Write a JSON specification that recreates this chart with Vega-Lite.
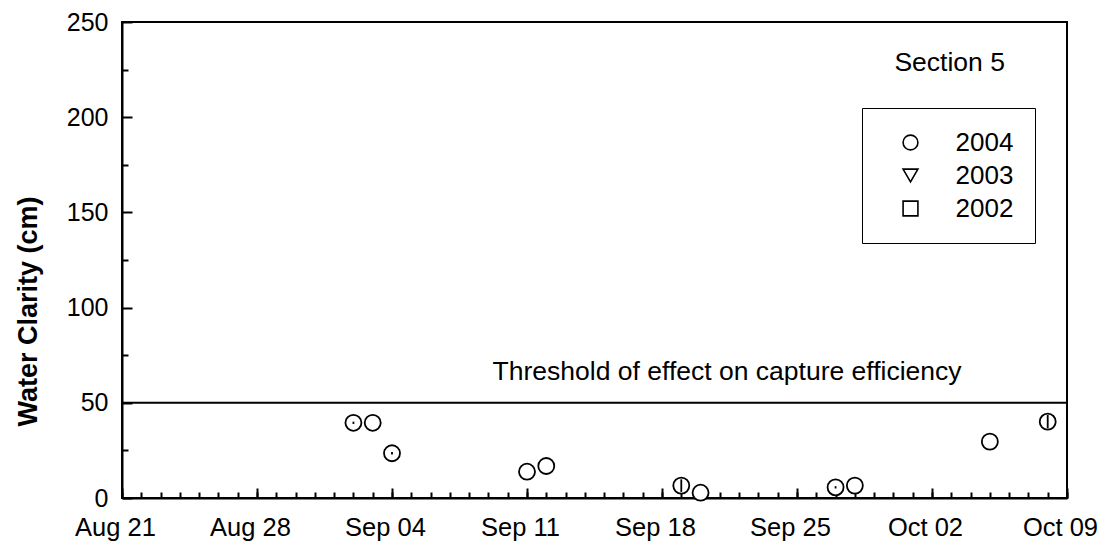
{
  "$schema": "https://vega.github.io/schema/vega-lite/v6.json",
  "width": 945,
  "height": 476,
  "autosize": {"type": "none"},
  "padding": {"left": 122, "top": 22, "right": 36, "bottom": 46},
  "background": "white",
  "datasets": {
    "obs": [
      {"date": "2004-09-02", "clarity": 39.5, "year": "2004"},
      {"date": "2004-09-03", "clarity": 39.5, "year": "2004"},
      {"date": "2004-09-04", "clarity": 23.5, "year": "2004"},
      {"date": "2004-09-11", "clarity": 13.8, "year": "2004"},
      {"date": "2004-09-12", "clarity": 16.8, "year": "2004"},
      {"date": "2004-09-19", "clarity": 6.5, "year": "2004"},
      {"date": "2004-09-20", "clarity": 2.8, "year": "2004"},
      {"date": "2004-09-27", "clarity": 5.6, "year": "2004"},
      {"date": "2004-09-28", "clarity": 6.5, "year": "2004"},
      {"date": "2004-10-05", "clarity": 29.6, "year": "2004"},
      {"date": "2004-10-08", "clarity": 40.1, "year": "2004"}
    ]
  },
  "config": {
    "font": "Liberation Sans",
    "view": {"stroke": "black", "strokeWidth": 2},
    "axis": {"grid": false, "labelColor": "black", "titleColor": "black", "tickColor": "black", "domainColor": "black", "labelFont": "Liberation Sans", "titleFont": "Liberation Sans"}
  },
  "layer": [
    {
      "data": {"values": [{"clarity": 50}]},
      "mark": {"type": "rule", "color": "black", "strokeWidth": 2},
      "encoding": {
        "y": {"field": "clarity", "type": "quantitative", "scale": {"domain": [0, 250], "nice": false}, "axis": null}
      }
    },
    {
      "data": {"values": [
        {"date": "2004-09-21T09:00:00Z", "value": 62, "label": "Threshold of effect on capture efficiency"},
        {"date": "2004-10-02T22:00:00Z", "value": 224.3, "label": "Section 5"}
      ]},
      "mark": {"type": "text", "align": "center", "baseline": "alphabetic", "fontSize": 26.5, "color": "black", "font": "Liberation Sans"},
      "encoding": {
        "x": {"field": "date", "type": "temporal", "scale": {"type": "utc", "domain": [{"year": 2004, "month": "August", "date": 21, "utc": true}, {"year": 2004, "month": "October", "date": 9, "utc": true}], "nice": false}, "axis": null},
        "y": {"field": "value", "type": "quantitative", "scale": {"domain": [0, 250], "nice": false}, "axis": null},
        "text": {"field": "label"}
      }
    },
    {
      "data": {"name": "obs"},
      "mark": {"type": "point", "filled": true, "color": "white", "opacity": 1, "size": 256},
      "encoding": {
        "x": {"field": "date", "type": "temporal", "scale": {"type": "utc", "domain": [{"year": 2004, "month": "August", "date": 21, "utc": true}, {"year": 2004, "month": "October", "date": 9, "utc": true}], "nice": false}, "axis": null},
        "y": {"field": "clarity", "type": "quantitative", "scale": {"domain": [0, 250], "nice": false}, "axis": null}
      }
    },
    {
      "data": {"name": "obs"},
      "mark": {"type": "point", "filled": false, "color": "black", "strokeWidth": 1.8, "size": 256, "opacity": 1},
      "encoding": {
        "x": {
          "field": "date", "type": "temporal",
          "scale": {"type": "utc", "domain": [{"year": 2004, "month": "August", "date": 21, "utc": true}, {"year": 2004, "month": "October", "date": 9, "utc": true}], "nice": false},
          "axis": {
            "orient": "bottom", "title": null, "format": "%b %d",
            "values": [
              {"year": 2004, "month": "August", "date": 21, "utc": true},
              {"year": 2004, "month": "August", "date": 28, "utc": true},
              {"year": 2004, "month": "September", "date": 4, "utc": true},
              {"year": 2004, "month": "September", "date": 11, "utc": true},
              {"year": 2004, "month": "September", "date": 18, "utc": true},
              {"year": 2004, "month": "September", "date": 25, "utc": true},
              {"year": 2004, "month": "October", "date": 2, "utc": true},
              {"year": 2004, "month": "October", "date": 9, "utc": true}
            ],
            "tickSize": -10, "tickWidth": 2, "labelPadding": 27, "labelOffset": -7, "labelFontSize": 25.5, "labelFlush": false, "labelOverlap": false,
            "domain": true, "domainWidth": 2
          }
        },
        "y": {
          "field": "clarity", "type": "quantitative",
          "scale": {"domain": [0, 250], "nice": false},
          "axis": {
            "orient": "left", "title": "Water Clarity (cm)", "values": [0, 50, 100, 150, 200, 250],
            "tickSize": -10, "tickWidth": 2, "labelPadding": 24, "labelFontSize": 25,
            "titleFontSize": 27, "titleFontWeight": "bold", "titleX": -94, "titleY": 289, "titleAngle": 270,
            "titleAlign": "center", "titleBaseline": "middle", "domain": true, "domainWidth": 2
          }
        },
        "shape": {
          "field": "year", "type": "nominal",
          "scale": {"domain": ["2004", "2003", "2002"], "range": ["circle", "triangle-down", "square"]},
          "legend": {
            "title": null, "orient": "none", "legendX": 740, "legendY": 86,
            "padding": 21.5, "symbolOffset": 14, "labelOffset": 32, "rowPadding": 7,
            "strokeColor": "black", "fillColor": "white",
            "symbolSize": 220, "symbolStrokeColor": "black", "symbolStrokeWidth": 1.6,
            "labelFontSize": 26, "labelColor": "black", "labelFont": "Liberation Sans"
          }
        }
      }
    },
    {
      "data": {"values": [
        {"date": "2004-09-02", "lo": 38.9, "hi": 40.1},
        {"date": "2004-09-04", "lo": 22.9, "hi": 24.1},
        {"date": "2004-09-19", "lo": 3.2, "hi": 9.8},
        {"date": "2004-09-27", "lo": 5.0, "hi": 6.2},
        {"date": "2004-10-08", "lo": 36.6, "hi": 43.6}
      ]},
      "mark": {"type": "rule", "color": "black", "strokeWidth": 1.8},
      "encoding": {
        "x": {"field": "date", "type": "temporal", "scale": {"type": "utc", "domain": [{"year": 2004, "month": "August", "date": 21, "utc": true}, {"year": 2004, "month": "October", "date": 9, "utc": true}], "nice": false}, "axis": null},
        "y": {"field": "lo", "type": "quantitative", "scale": {"domain": [0, 250], "nice": false}, "axis": null},
        "y2": {"field": "hi"}
      }
    },
    {
      "data": {"values": [
        {"date": "2004-09-02", "clarity": 39.5}
      ]},
      "mark": {"type": "point", "opacity": 0},
      "encoding": {
        "x": {
          "field": "date", "type": "temporal",
          "scale": {"type": "utc", "domain": [{"year": 2004, "month": "August", "date": 21, "utc": true}, {"year": 2004, "month": "October", "date": 9, "utc": true}], "nice": false},
          "axis": {"orient": "bottom", "title": null, "labels": false, "domain": false, "tickCount": {"interval": "day", "step": 1}, "tickSize": -6, "tickWidth": 2}
        },
        "y": {
          "field": "clarity", "type": "quantitative",
          "scale": {"domain": [0, 250], "nice": false},
          "axis": {"orient": "left", "title": null, "labels": false, "domain": false, "values": [25, 75, 125, 175, 225], "tickSize": -6, "tickWidth": 2}
        }
      }
    }
  ],
  "resolve": {"axis": {"x": "independent", "y": "independent"}}
}
